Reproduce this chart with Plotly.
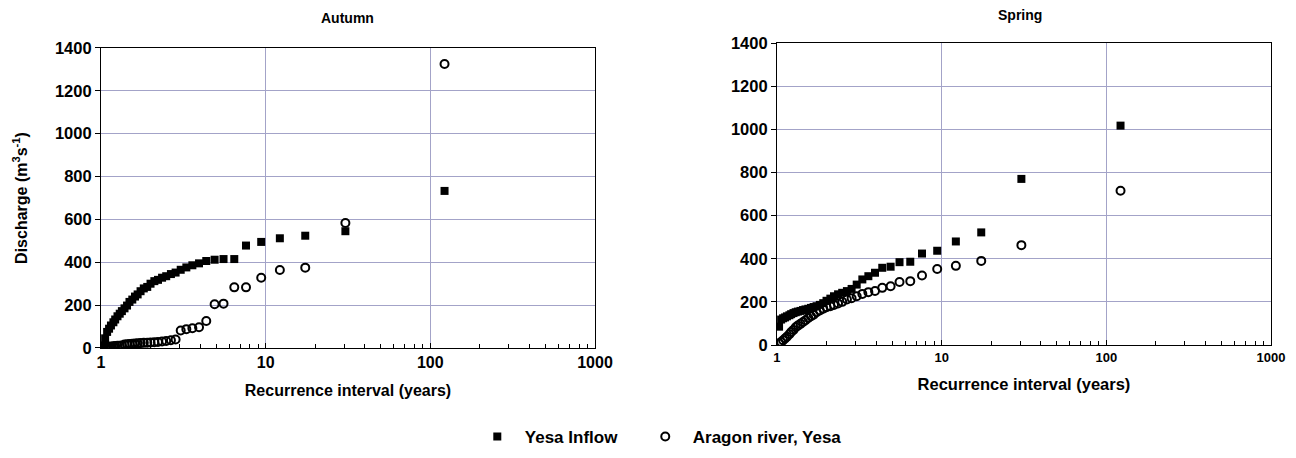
"""
Recurrence interval vs discharge, Autumn and Spring, Yesa.
"""
import plotly.graph_objects as go

# Recurrence interval (years), shared by both series
recurrence = [
    122, 30.5, 17.4, 12.2, 9.4, 7.6, 6.45, 5.55, 4.9, 4.36,
    3.94, 3.59, 3.3, 3.05, 2.84, 2.66, 2.49, 2.35, 2.22, 2.11,
    2.0, 1.91, 1.82, 1.74, 1.67, 1.61, 1.55, 1.49, 1.44, 1.39,
    1.34, 1.3, 1.26, 1.22, 1.19, 1.15, 1.12, 1.09, 1.06, 1.03,
]

autumn_inflow = [
    733, 545, 524, 512, 495, 478, 415, 415, 412, 406,
    395, 386, 376, 365, 352, 345, 335, 328, 318, 312,
    300, 285, 278, 265, 250, 240, 226, 215, 198, 185,
    172, 160, 148, 133, 120, 105, 90, 75, 45, 12,
]
autumn_aragon = [
    1325, 583, 375, 364, 328, 283, 283, 207, 204, 126,
    97, 92, 88, 82, 40, 36, 33, 30, 28, 27,
    26, 25, 24, 23, 22, 21, 20, 19, 18, 16,
    12, 11, 10, 9, 8, 7, 6, 5, 4, 3,
]

spring_inflow = [
    1017, 770, 522, 480, 437, 424, 386, 384, 363, 358,
    335, 319, 304, 280, 260, 250, 242, 235, 226, 215,
    205, 194, 186, 180, 176, 172, 168, 165, 162, 158,
    155, 152, 148, 143, 138, 133, 128, 124, 118, 85,
]
spring_aragon = [
    715, 463, 390, 367, 352, 322, 296, 292, 272, 265,
    250, 245, 237, 226, 217, 211, 200, 193, 186, 180,
    175, 168, 160, 152, 140, 133, 125, 115, 107, 98,
    90, 82, 70, 60, 50, 38, 30, 22, 14, 8,
]

x_ticks = [1, 10, 100, 1000]
x_minor = [v * m for m in (1, 10, 100) for v in range(2, 10)]

FONT = "Liberation Sans, Arial, sans-serif"
GRID = "#a3a3c8"

fig = go.Figure()

# === Точки ===
for xa, ya, inflow, aragon, show in [
    ("x", "y", autumn_inflow, autumn_aragon, True),
    ("x2", "y2", spring_inflow, spring_aragon, False),
]:
    fig.add_trace(go.Scatter(
        x=recurrence, y=inflow, xaxis=xa, yaxis=ya,
        mode="markers", name="Yesa Inflow", showlegend=show,
        legend="legend",
        marker=dict(symbol="square", size=8, color="black"),
    ))
    fig.add_trace(go.Scatter(
        x=recurrence, y=aragon, xaxis=xa, yaxis=ya,
        mode="markers", name="Aragon river, Yesa", showlegend=show,
        legend="legend2",
        marker=dict(symbol="circle-open", size=8, color="black",
                    line=dict(width=2, color="black")),
    ))

xaxis_common = dict(
    type="log", range=[0, 3], automargin=False,
    tickvals=x_ticks, ticktext=[str(v) for v in x_ticks],
    ticks="inside", ticklen=5, tickcolor="black",
    minor=dict(tickvals=x_minor, ticks="inside", ticklen=4,
               tickcolor="black", showgrid=False),
    showgrid=True, gridcolor=GRID, gridwidth=1,
    showline=True, linecolor="black", linewidth=1, mirror=True,
    zeroline=False,
)
yaxis_common = dict(
    range=[0, 1400], dtick=200, automargin=False,
    ticks="outside", ticklen=5, tickcolor="black",
    showgrid=True, gridcolor=GRID, gridwidth=1,
    showline=True, linecolor="black", linewidth=1, mirror=True,
    zeroline=False,
    tickfont=dict(size=16.5, family=FONT, color="black"),
)
legend_common = dict(
    orientation="h", xanchor="left", y=0.046, yanchor="middle",
    font=dict(size=17, family=FONT, color="black"),
    itemwidth=45, bgcolor="rgba(0,0,0,0)",
)

fig.update_layout(
    width=1296, height=458,
    margin=dict(l=0, r=0, t=0, b=0),
    plot_bgcolor="white", paper_bgcolor="white",
    font=dict(family=FONT, size=14, color="black", weight="bold"),
    xaxis=dict(xaxis_common, domain=[0.0779, 0.4591], anchor="y",
               tickfont=dict(size=16, family=FONT, color="black"),
               title=dict(text="Recurrence interval (years)", standoff=14,
                          font=dict(size=16, family=FONT, color="black"))),
    yaxis=dict(yaxis_common, domain=[0.2402, 0.8952], anchor="x",
               title=dict(text="Discharge (m<sup>3</sup>s<sup>-1</sup>)",
                          font=dict(size=16, family=FONT, color="black"),
                          standoff=23)),
    xaxis2=dict(xaxis_common, domain=[0.5995, 0.9807], anchor="y2",
                tickfont=dict(size=13, family=FONT, color="black"),
                title=dict(text="Recurrence interval (years)", standoff=14,
                           font=dict(size=16.5, family=FONT, color="black"))),
    yaxis2=dict(yaxis_common, domain=[0.2467, 0.9061], anchor="x2"),
    legend=dict(legend_common, x=0.3625),
    legend2=dict(legend_common, x=0.4921),
    annotations=[
        dict(text="Autumn", x=0.2685, y=1 - 18 / 458, xref="paper",
             yref="paper", xanchor="center", yanchor="middle",
             showarrow=False, font=dict(size=14, family=FONT, color="black")),
        dict(text="Spring", x=0.7870, y=1 - 15 / 458, xref="paper",
             yref="paper", xanchor="center", yanchor="middle",
             showarrow=False, font=dict(size=14, family=FONT, color="black")),
    ],
)

fig.write_html(
    "out.html",
    config={"displayModeBar": False},
    post_script="document.body.style.margin = '0px';",
)
